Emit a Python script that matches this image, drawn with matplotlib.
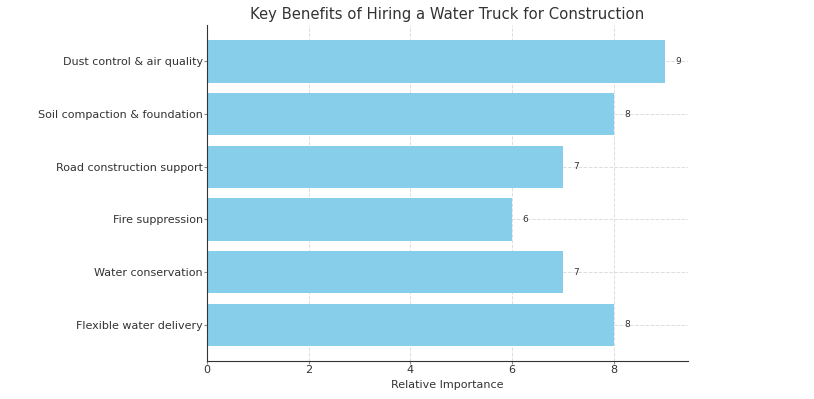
import matplotlib.pyplot as plt

categories = ['Flexible water delivery', 'Water conservation', 'Fire suppression',
              'Road construction support', 'Soil compaction & foundation',
              'Dust control & air quality']
importance = [8, 7, 6, 7, 8, 9]

plt.rcParams['text.color'] = '#333333'
plt.rcParams['axes.labelcolor'] = '#333333'
plt.rcParams['xtick.color'] = '#333333'
plt.rcParams['ytick.color'] = '#333333'

fig = plt.figure(figsize=(8.14, 3.99), dpi=100)
ax = fig.add_axes([0.254, 0.095, 0.591, 0.842])

bars = ax.barh(categories, importance, color='skyblue', height=0.8)
for b, v in zip(bars, importance):
    ax.text(v + 0.2, b.get_y() + b.get_height() / 2, str(v), va='center', fontsize=6.5)

ax.set_title('Key Benefits of Hiring a Water Truck for Construction', fontsize=10.7, pad=4.5)
ax.set_xlabel('Relative Importance', fontsize=8, labelpad=3.5)
ax.tick_params(labelsize=8, length=2, pad=0.8, color='#888888')
ax.grid(True, linestyle='--', color='#dddddd', linewidth=0.7)
ax.set_axisbelow(True)
for s in ['top', 'right']:
    ax.spines[s].set_visible(False)
ax.spines['left'].set_color('#333333')
ax.spines['bottom'].set_color('#333333')

plt.savefig('out.png', dpi=100)
